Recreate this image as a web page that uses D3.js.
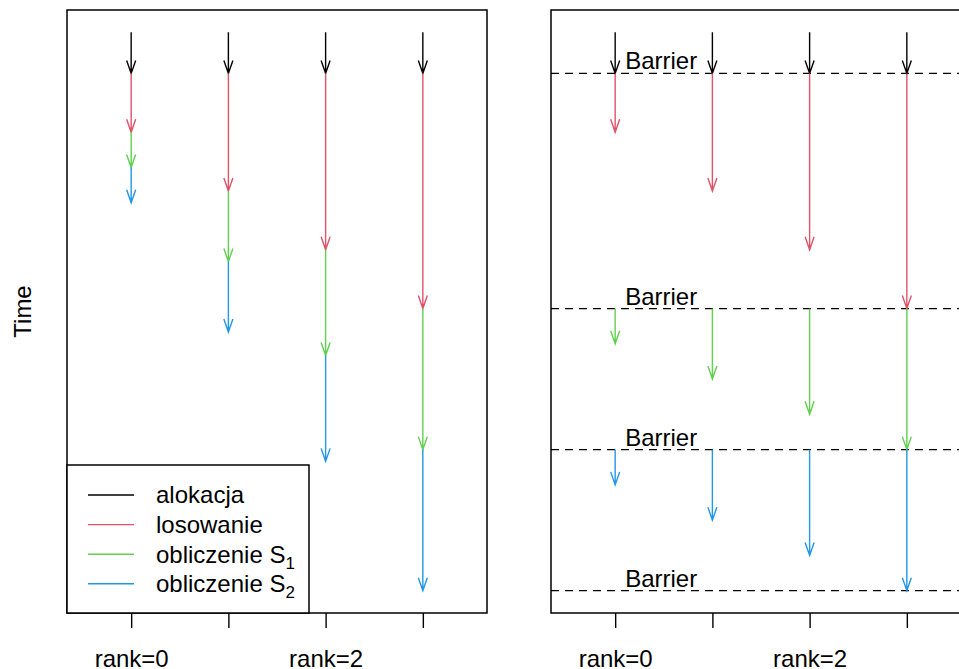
<!DOCTYPE html>
<html>
<head>
<meta charset="utf-8">
<script src="https://cdn.jsdelivr.net/npm/d3@7"></script>
<style>
  body { margin: 0; background: #fff; }
  svg { display: block; font-family: "Liberation Sans", Arial, sans-serif; }
</style>
</head>
<body>
<div class="canvas"></div>
<script>
// data: czas trwania faz dla kazdego procesu (rank)
const ranks = [0, 1, 2, 3];
const rankLabels = ['rank=0', 'rank=1', 'rank=2', 'rank=3'];
const phases = ['alokacja', 'losowanie', 'obliczenie S', 'obliczenie S'];
const phaseSubs = ['', '', '1', '2'];
const phaseColors = ['#000000', '#DF536B', '#61D04F', '#2297E6'];
const alokacja = [0.7, 0.7, 0.7, 0.7];
const losowanie = [1, 2, 3, 4];
const oblS1 = [0.6, 1.2, 1.8, 2.4];
const oblS2 = [0.6, 1.2, 1.8, 2.4];
const barrierLabel = 'Barrier';

const durations = [alokacja, losowanie, oblS1, oblS2];

const W = 959, H = 669;
const fontSize = '24px';
const svg = d3.select('.canvas')
    .append('svg')
    .attr('width', W)
    .attr('height', H);

// panels
const plotTop = 10, plotBottom = 613;
const panelLeft = [67, 551];
const panelWidth = 420;

// segments without barriers (left) - each rank runs its phases back to back
const segsFree = [];
ranks.forEach((r, i) => {
    let t = 0;
    durations.forEach((d, p) => {
        segsFree.push({ rank: r, phase: p, t0: t, t1: t + d[i] });
        t += d[i];
    });
});

// segments with barriers (right) - each phase starts after the slowest rank
const segsBar = [];
const barriers = [];
let tb = 0;
durations.forEach((d, p) => {
    ranks.forEach((r, i) => {
        segsBar.push({ rank: r, phase: p, t0: tb, t1: tb + d[i] });
    });
    tb += d3.max(d);
    barriers.push(tb);
});

const tMax = d3.max(segsFree, d => d.t1);
const y = d3.scaleLinear()
    .domain([-0.04 * tMax, 1.04 * tMax])
    .range([plotTop, plotBottom]);

function drawPanel(x0, segs, withBarriers) {
    const x = d3.scaleLinear()
        .domain([-0.5 - 0.16, 3.5 + 0.16])
        .range([x0, x0 + panelWidth]);
    const g = svg.append('g');

    if (withBarriers) {
        g.selectAll('line.barrier')
            .data(barriers)
            .enter()
            .append('line')
            .attr('x1', x0)
            .attr('x2', x0 + panelWidth)
            .attr('y1', d => y(d))
            .attr('y2', d => y(d))
            .attr('stroke', '#000')
            .attr('stroke-width', 1.3)
            .attr('stroke-dasharray', '8,6');
        g.selectAll('text.barrier')
            .data(barriers)
            .enter()
            .append('text')
            .attr('x', x(0) + 10)
            .attr('y', d => y(d) - 4)
            .attr('font-size', fontSize)
            .text(barrierLabel);
    }

    // arrows
    g.selectAll('path.arrow')
        .data(segs)
        .enter()
        .append('path')
        .attr('fill', 'none')
        .attr('stroke', d => phaseColors[d.phase])
        .attr('stroke-width', 1.4)
        .attr('d', d => {
            const xx = x(d.rank), ya = y(d.t0), yb = y(d.t1);
            return `M${xx},${ya}L${xx},${yb}M${xx - 4.5},${yb - 13}L${xx},${yb}L${xx + 4.5},${yb - 13}`;
        });

    // box
    g.append('rect')
        .attr('x', x0)
        .attr('y', plotTop)
        .attr('width', panelWidth)
        .attr('height', plotBottom - plotTop)
        .attr('fill', 'none')
        .attr('stroke', '#000')
        .attr('stroke-width', 1.5);

    // x axis
    const xAxis = d3.axisBottom(x)
        .tickValues(ranks)
        .tickSize(15)
        .tickPadding(22)
        .tickFormat(d => d % 2 === 0 ? rankLabels[d] : '');
    const ax = g.append('g')
        .attr('transform', `translate(0, ${plotBottom})`)
        .call(xAxis);
    ax.select('.domain').remove();
    ax.selectAll('line').attr('stroke-width', 1.4);
    ax.selectAll('text')
        .attr('font-size', fontSize)
        .attr('font-family', '"Liberation Sans", Arial, sans-serif')
        .attr('fill', '#000');
    return g;
}

drawPanel(panelLeft[0], segsFree, false);
drawPanel(panelLeft[1], segsBar, true);

// y label
svg.append('text')
    .attr('transform', `translate(31, ${(plotTop + plotBottom) / 2}) rotate(-90)`)
    .attr('text-anchor', 'middle')
    .attr('font-size', fontSize)
    .text('Time');

// legend
const legend = svg.append('g');
legend.append('rect')
    .attr('x', 67)
    .attr('y', 465)
    .attr('width', 242)
    .attr('height', plotBottom - 465)
    .attr('fill', '#fff')
    .attr('stroke', '#000')
    .attr('stroke-width', 1.5);

const items = legend.selectAll('g.item')
    .data(phases)
    .enter()
    .append('g')
    .attr('transform', (d, i) => `translate(0, ${495 + i * 29.6})`);

items.append('line')
    .attr('x1', 88)
    .attr('x2', 134)
    .attr('stroke', (d, i) => phaseColors[i])
    .attr('stroke-width', 1.4);

const lt = items.append('text')
    .attr('x', 156)
    .attr('dy', '0.35em')
    .attr('font-size', fontSize);
lt.append('tspan').text(d => d);
lt.append('tspan')
    .attr('font-size', '17px')
    .attr('dy', 6)
    .text((d, i) => phaseSubs[i]);
</script>
</body>
</html>
